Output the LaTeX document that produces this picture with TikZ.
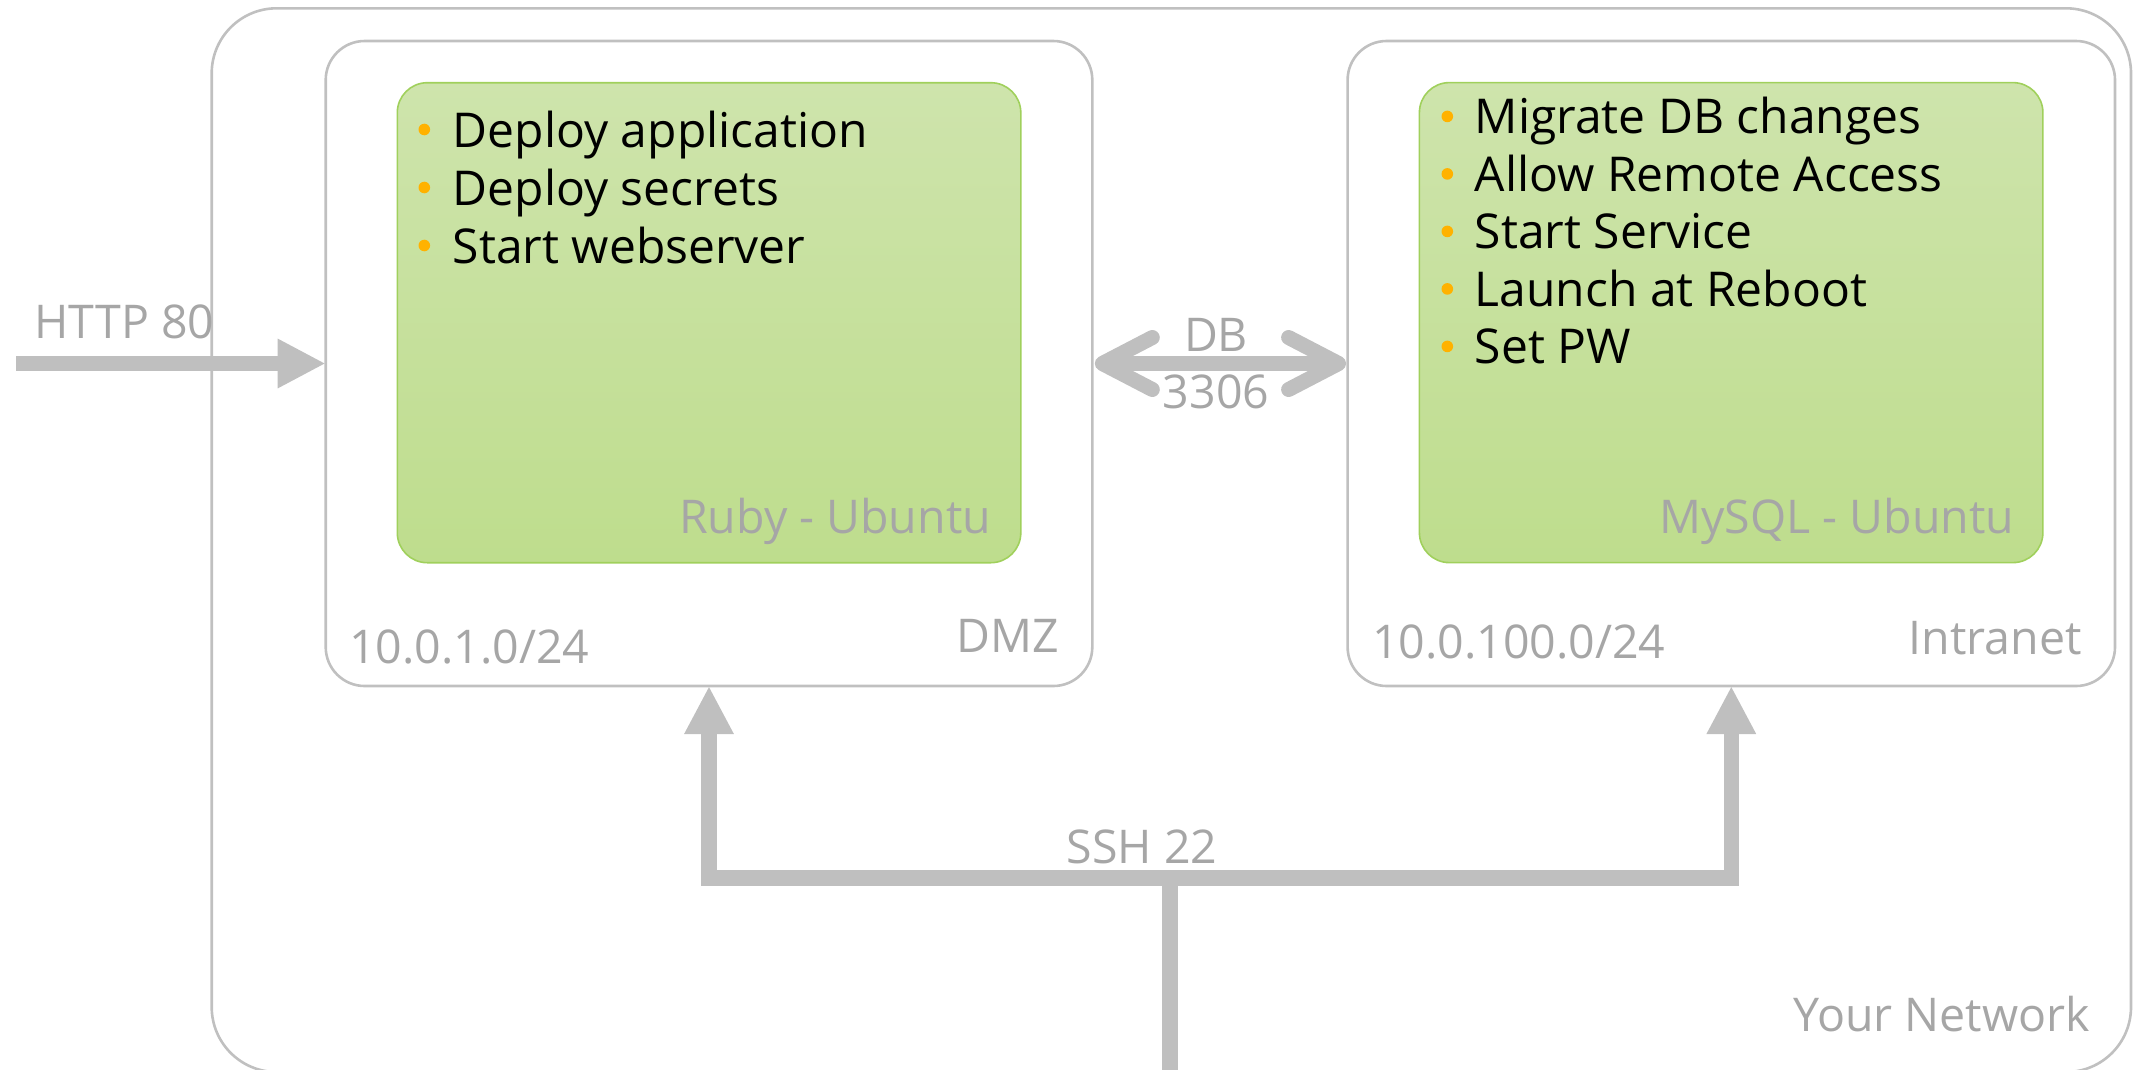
\documentclass[tikz,border=0pt]{standalone}
\usepackage{fontspec}
\setmainfont{Open Sans}
\usetikzlibrary{arrows.meta,calc}

\definecolor{framegray}{RGB}{192,192,192}
\definecolor{pipegray}{RGB}{191,191,191}
\definecolor{labelgray}{RGB}{166,166,166}
\definecolor{greentop}{RGB}{206,228,172}
\definecolor{greenbottom}{RGB}{190,221,141}
\definecolor{greenedge}{RGB}{160,208,92}
\definecolor{bulletorange}{RGB}{255,178,0}

\tikzset{
  zone/.style={draw=framegray, line width=2.6pt, rounded corners=#1,
    anchor=north west, inner sep=0pt, outer sep=0pt},
  hostbox/.style={draw=greenedge, line width=1.6pt, rounded corners=30pt,
    top color=greentop, bottom color=greenbottom,
    anchor=north west, inner sep=0pt, outer sep=0pt,
    minimum width=623.5pt, minimum height=480pt},
  pipe/.style={draw=pipegray, line width=15.5pt, line join=miter},
  chevron/.style={draw=pipegray, line width=15pt, line cap=round, line join=round},
  bigtip/.style={-{Triangle[length=48pt,width=46pt]}},
  txt/.style={inner sep=0pt, outer sep=0pt, font=\fontsize{46.5}{58}\selectfont},
  item/.style={inner sep=0pt, outer sep=0pt, font=\fontsize{48}{58}\selectfont,
    anchor=base west, text=black},
  graylabel/.style={txt, text=labelgray},
  dot/.style={fill=bulletorange},
}

\begin{document}
\begin{tikzpicture}[x=1pt, y=-1pt]
  \useasboundingbox (0,0) rectangle (2143,1069);
  \clip (0,0) rectangle (2143,1069);

  % network zones
  \node[zone=65pt, minimum width=1919.3pt, minimum height=1063.7pt] (net) at (211.7,8.3) {};
  \node[zone=39pt, minimum width=766.6pt, minimum height=645pt] (dmz) at (325.7,41) {};
  \node[zone=39pt, minimum width=767.4pt, minimum height=645pt] (intra) at (1347.6,41) {};

  % hosts
  \node[hostbox] (web) at (397.3,82.7) {};
  \node[hostbox] (db) at (1419.4,82.6) {};

  % task lists
  \foreach \t [count=\i from 0] in {Deploy application, Deploy secrets, Start webserver} {
    \node[item] (wt\i) at (452.8,147+58*\i) {\t};
    \fill[dot] ($(wt\i.base west)+(-28.5,-17.5)$) circle (5.8pt);
  }
  \foreach \t [count=\i from 0] in {Migrate DB changes, Allow Remote Access, Start Service, Launch at Reboot, Set PW} {
    \node[item] (dt\i) at (1474.8,133.9+57.5*\i) {\t};
    \fill[dot] ($(dt\i.base west)+(-27.5,-17.5)$) circle (5.8pt);
  }

  \node[graylabel, anchor=base east] (webos) at (991,533.5) {Ruby - Ubuntu};
  \node[graylabel, anchor=base east] (dbos) at (2014,533.5) {MySQL - Ubuntu};

  % zone labels
  \node[graylabel, anchor=base east] (dmzname) at (1059.3,652.7) {DMZ};
  \node[graylabel, anchor=base west] (dmznet) at (349,663) {10.0.1.0/24};
  \node[graylabel, anchor=base east] (intraname) at (2081.6,654) {Intranet};
  \node[graylabel, anchor=base west] (intranet) at (1372,658.5) {10.0.100.0/24};
  \node[graylabel, anchor=base east] (netname) at (2090,1031.7) {Your Network};

  % HTTP into the DMZ
  \coordinate (outside) at (16,363.5);
  \draw[pipe, bigtip] (outside) -- (dmz.west);

  % database link between the zones
  \draw[pipe] ($(dmz.east)+(10,0)$) -- ($(intra.west)+(-9,0)$);
  \draw[chevron] ($(dmz.east)+(60,-26)$) -- ($(dmz.east)+(10,0)$) -- ($(dmz.east)+(60,26)$);
  \draw[chevron] ($(intra.west)+(-59,-26)$) -- ($(intra.west)+(-9,0)$) -- ($(intra.west)+(-59,26)$);

  % SSH administration
  \coordinate (admin) at (1170,1080);
  \coordinate (hub) at (1170,878);
  \draw[pipe] (admin) -- (hub);
  \draw[pipe, bigtip] (hub) -| (dmz.south);
  \draw[pipe, bigtip] (hub) -| (intra.south);

  % connector labels
  \node[graylabel, anchor=base west] (httplbl) at (34.5,338) {HTTP 80};
  \node[graylabel, anchor=base] (dblbl) at (1216,351.7) {DB};
  \node[graylabel, anchor=base] (portlbl) at (1216,408.3) {3306};
  \node[graylabel, anchor=base] (sshlbl) at (1142,863.3) {SSH 22};
\end{tikzpicture}
\end{document}
